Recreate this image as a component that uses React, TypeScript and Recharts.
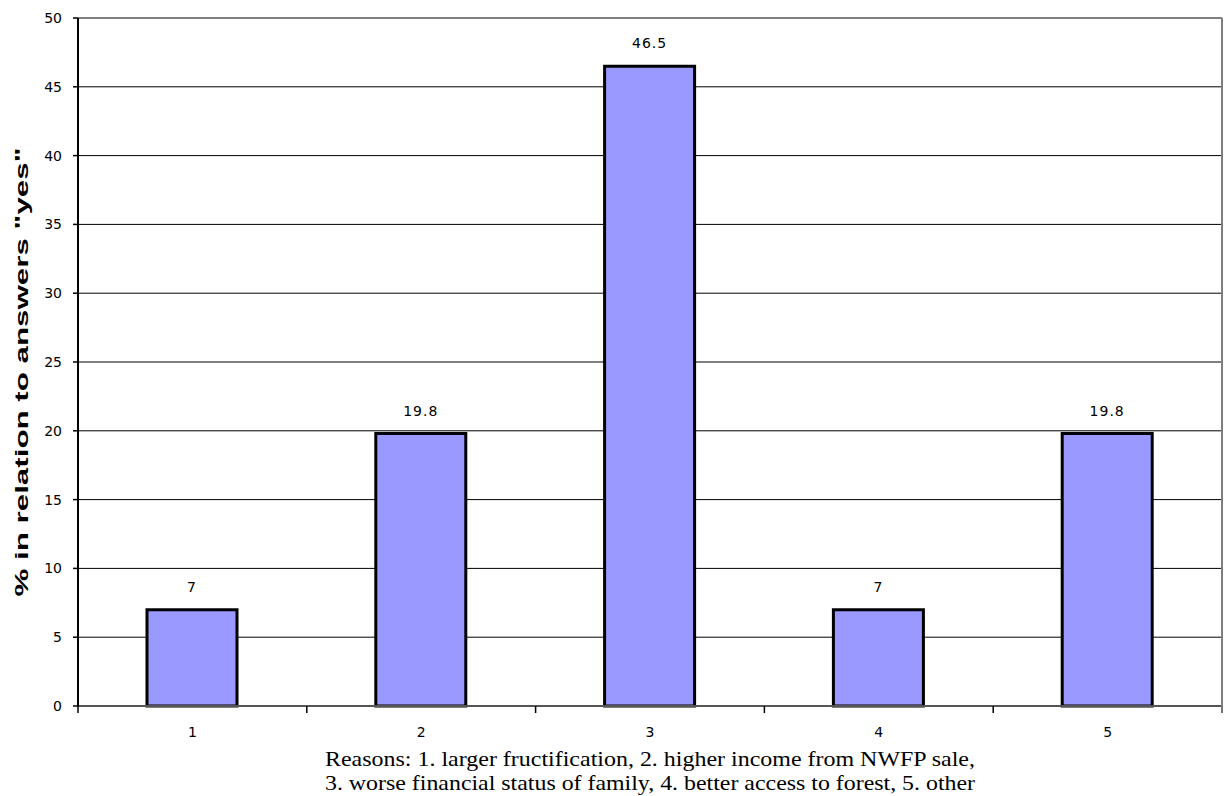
import { Bar, BarChart, CartesianGrid, Label, LabelList, ReferenceLine, XAxis, YAxis } from "recharts";

const reasons = ["1", "2", "3", "4", "5"];
const yesShare = [7, 19.8, 46.5, 7, 19.8];
const yTicks = [0, 5, 10, 15, 20, 25, 30, 35, 40, 45, 50];
const gridValues = [5, 10, 15, 20, 25, 30, 35, 40, 45];
const yTitle = '% in relation to answers "yes"';
const captionLines = [
  "Reasons: 1. larger fructification, 2. higher income from NWFP sale,",
  "3. worse financial status of family, 4. better access to forest, 5. other",
];

const rows = reasons.map((reason, i) => ({ reason, share: yesShare[i] }));

const sans = "'DejaVu Sans', sans-serif";

// Excel puts the x tick marks between categories, so draw them at the band edges
function ReasonTick(props: any) {
  const { x, y, payload, index } = props;
  const half = payload?.offset || 114.4;
  return (
    <g>
      <line x1={x - half} x2={x - half} y1={y} y2={y + 7} stroke="#000" strokeWidth={1.5} />
      {index === reasons.length - 1 && (
        <line x1={x + half} x2={x + half} y1={y} y2={y + 7} stroke="#777" strokeWidth={2} />
      )}
      <text x={x} y={y + 31} textAnchor="middle" fill="#000" fontSize={14} fontFamily={sans}>
        {payload.value}
      </text>
    </g>
  );
}

function YTitle(props: any) {
  const vb = props.viewBox || { x: 0, y: 18, width: 78, height: 688 };
  const cx = vb.x + 28;
  const cy = vb.y + vb.height / 2 + 10;
  return (
    <text
      x={cx}
      y={cy}
      transform={`rotate(-90 ${cx} ${cy})`}
      textAnchor="middle"
      fontFamily="'Liberation Sans', Arial, sans-serif"
      fontWeight="bold"
      fontSize={18}
      textLength={449}
      lengthAdjust="spacingAndGlyphs"
      fill="#000"
    >
      {yTitle}
    </text>
  );
}

function Caption(props: any) {
  const vb = props.viewBox || { x: 78, y: 706, width: 1144, height: 90 };
  const cx = vb.x + vb.width / 2;
  return (
    <g>
      {captionLines.map((line, i) => (
        <text
          key={i}
          x={cx}
          y={vb.y + 60 + i * 24}
          textAnchor="middle"
          fontFamily="'Liberation Serif', 'Times New Roman', serif"
          fontSize={21}
          textLength={650}
          lengthAdjust="spacingAndGlyphs"
          fill="#000"
        >
          {line}
        </text>
      ))}
    </g>
  );
}

export default function App() {
  return (
    <div style={{ position: "absolute", left: 0, top: 0, background: "#fff" }}>
      <BarChart
        width={1224}
        height={796}
        data={rows}
        margin={{ top: 18, right: 0, bottom: 0, left: 0 }}
      >
        <CartesianGrid
          vertical={false}
          horizontalValues={gridValues}
          stroke="#000"
          strokeWidth={1}
          yAxisId="left"
        />
        <XAxis
          dataKey="reason"
          height={90}
          tickSize={0}
          tickMargin={0}
          tickLine={false}
          axisLine={{ stroke: "#555", strokeWidth: 2 }}
          tick={<ReasonTick />}
          interval={0}
        >
          <Label content={<Caption />} />
        </XAxis>
        <YAxis
          yAxisId="left"
          width={78}
          domain={[0, 50]}
          ticks={yTicks}
          interval={0}
          tickSize={5}
          tickMargin={11}
          axisLine={{ stroke: "#000", strokeWidth: 2 }}
          tickLine={{ stroke: "#000", strokeWidth: 1.5 }}
          tick={{ fill: "#000", fontSize: 14, fontFamily: sans }}
        >
          <Label content={<YTitle />} />
        </YAxis>
        <YAxis
          yAxisId="right"
          orientation="right"
          width={2}
          domain={[0, 50]}
          tick={false}
          tickLine={false}
          axisLine={{ stroke: "#808080", strokeWidth: 2 }}
        />
        <ReferenceLine yAxisId="left" y={50} stroke="#808080" strokeWidth={2} />
        <Bar
          yAxisId="left"
          dataKey="share"
          barSize={90}
          fill="#9999FF"
          stroke="#000"
          strokeWidth={3}
          isAnimationActive={false}
        >
          <LabelList
            dataKey="share"
            position="top"
            offset={18}
            fill="#000"
            fontSize={14}
            fontFamily={sans}
            letterSpacing={1}
          />
        </Bar>
      </BarChart>
    </div>
  );
}
